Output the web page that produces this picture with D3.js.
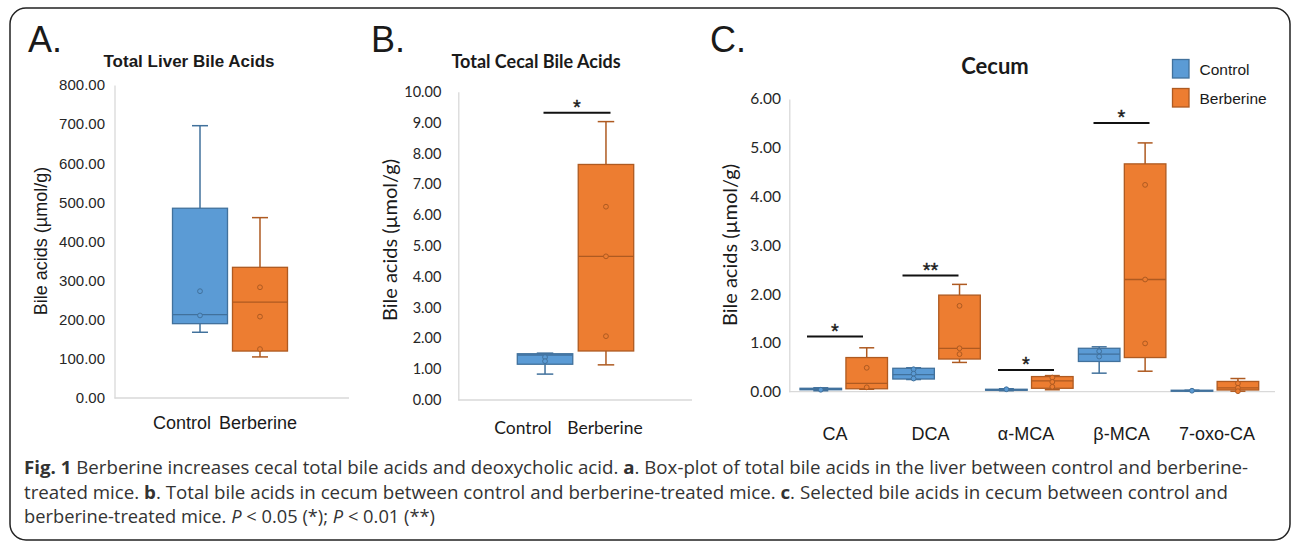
<!DOCTYPE html>
<html>
<head>
<meta charset="utf-8">
<script src="https://cdn.jsdelivr.net/npm/d3@7"></script>
<style>
  body { margin: 0; background: #fff; }
  svg { display: block; }
</style>
</head>
<body>
<svg id="fig" width="1292" height="542"></svg>
<script>
// values
// box stats are [min, q1, median, q3, max]
var groups = ["Control", "Berberine"];

var liverStats = [[168, 190, 213, 485, 696], [105, 120, 245, 334, 461]];
var liverPoints = [[273, 211], [283, 208, 125]];
var liverTicks = [0, 100, 200, 300, 400, 500, 600, 700, 800];

var cecalStats = [[0.84, 1.16, 1.46, 1.50, 1.52], [1.14, 1.59, 4.66, 7.64, 9.03]];
var cecalPoints = [[1.39, 1.26], [6.27, 4.66, 2.07]];
var cecalTicks = [0, 1, 2, 3, 4, 5, 6, 7, 8, 9, 10];
var cecalSig = ["*", 9.32];

var acids = ["CA", "DCA", "α-MCA", "β-MCA", "7-oxo-CA"];
var acidControlStats = [
  [0.02, 0.04, 0.05, 0.07, 0.08],
  [0.25, 0.26, 0.35, 0.48, 0.49],
  [0.02, 0.03, 0.04, 0.05, 0.06],
  [0.38, 0.62, 0.77, 0.89, 0.92],
  [0.01, 0.02, 0.02, 0.03, 0.03]
];
var acidBerberineStats = [
  [0.05, 0.06, 0.17, 0.70, 0.90],
  [0.60, 0.67, 0.89, 1.98, 2.20],
  [0.04, 0.07, 0.22, 0.31, 0.33],
  [0.42, 0.70, 2.30, 4.67, 5.10],
  [0.01, 0.035, 0.08, 0.21, 0.27]
];
var acidControlPoints = [[0.04], [0.46, 0.37, 0.27], [0.05], [0.83, 0.72], [0.02]];
var acidBerberinePoints = [[0.49, 0.09], [1.76, 0.89, 0.77], [0.29, 0.20, 0.10], [4.24, 2.30, 0.99], [0.17, 0.08, 0.01]];
var acidTicks = [0, 1, 2, 3, 4, 5, 6];
var acidSig = [["CA", "*", 1.13], ["DCA", "**", 2.38], ["α-MCA", "*", 0.445], ["β-MCA", "*", 5.51]];

var fill = d3.scaleOrdinal().domain(groups).range(["#5b9bd5", "#ed7d31"]);
var edge = d3.scaleOrdinal().domain(groups).range(["#41719c", "#ae5a21"]);

var ARIAL = "'Liberation Sans', Arial, sans-serif";
var CALI = "Lato, 'Open Sans', sans-serif";

var svg = d3.select("#fig");

// frame
svg.append("rect")
  .attr("x", 10).attr("y", 8).attr("width", 1280).attr("height", 532)
  .attr("rx", 16).attr("fill", "none").attr("stroke", "#222").attr("stroke-width", 1.5);

function drawBox(g, grp, x0, w, y, s, pts, capW) {
  var cx = x0 + w / 2;
  var c = edge(grp);
  // whiskers
  g.append("line").attr("x1", cx).attr("x2", cx).attr("y1", y(s[3])).attr("y2", y(s[4]))
    .attr("stroke", c).attr("stroke-width", 1.5);
  g.append("line").attr("x1", cx).attr("x2", cx).attr("y1", y(s[1])).attr("y2", y(s[0]))
    .attr("stroke", c).attr("stroke-width", 1.5);
  [s[0], s[4]].forEach(function(v) {
    g.append("line").attr("x1", cx - capW / 2).attr("x2", cx + capW / 2)
      .attr("y1", y(v)).attr("y2", y(v)).attr("stroke", c).attr("stroke-width", 1.5);
  });
  g.append("rect").attr("x", x0).attr("width", w)
    .attr("y", y(s[3])).attr("height", Math.max(1, y(s[1]) - y(s[3])))
    .attr("fill", fill(grp)).attr("stroke", c).attr("stroke-width", 1.3);
  g.append("line").attr("x1", x0).attr("x2", x0 + w).attr("y1", y(s[2])).attr("y2", y(s[2]))
    .attr("stroke", c).attr("stroke-width", 1.3);
  g.selectAll(null).data(pts).enter().append("circle")
    .attr("cx", cx).attr("cy", function(d) { return y(d); }).attr("r", 2.4)
    .attr("fill", fill(grp)).attr("stroke", c).attr("stroke-width", 1);
}

function yAxis(x0, y, ticks, pad, font, size, right) {
  var ax = svg.append("g").attr("transform", "translate(" + x0 + ",0)")
    .call(d3.axisLeft(y).tickValues(ticks).tickFormat(d3.format(".2f")).tickSize(0).tickPadding(pad));
  ax.select(".domain").attr("stroke", "#d9d9d9").attr("stroke-width", 1.3);
  ax.selectAll("text").attr("font-family", font).attr("font-size", size).attr("fill", "#262626");
  svg.append("line").attr("x1", x0).attr("x2", right).attr("y1", y(0)).attr("y2", y(0))
    .attr("stroke", "#d9d9d9").attr("stroke-width", 1.3);
}

function label(x, y, txt, font, size, weight, anchor, rot) {
  var t = svg.append("text").attr("x", x).attr("y", y).text(txt)
    .attr("font-family", font).attr("font-size", size)
    .attr("font-weight", weight || "normal").attr("text-anchor", anchor || "middle")
    .attr("fill", "#1a1a1a");
  if (rot) t.attr("transform", "rotate(-90," + x + "," + y + ")");
  return t;
}

function sigBar(cx, y, w, mark) {
  svg.append("line").attr("x1", cx - w / 2).attr("x2", cx + w / 2).attr("y1", y).attr("y2", y)
    .attr("stroke", "#111").attr("stroke-width", 2);
  label(cx, y + 1.5, mark, ARIAL, 20, "normal").attr("stroke", "#1a1a1a").attr("stroke-width", 0.4);
}

// ---------- A: liver ----------
var yA = d3.scaleLinear().domain([0, 800]).range([398, 85]);
var xA = d3.scaleBand().domain(groups).range([172.5, 287.5]).paddingInner(0.083);
yAxis(114.5, yA, liverTicks, 9.5, ARIAL, 15, 349);
var gA = svg.append("g");
groups.forEach(function(grp, i) {
  drawBox(gA, grp, xA(grp), xA.bandwidth(), yA, liverStats[i], liverPoints[i], 16);
});
label(28, 52, "A.", ARIAL, 36, "normal", "start");
label(189, 67, "Total Liver Bile Acids", ARIAL, 17, "bold");
label(47, 241, "Bile acids (µmol/g)", ARIAL, 18, "normal", "middle", true);
label(182, 429, "Control", ARIAL, 18);
label(258, 429, "Berberine", ARIAL, 18);

// ---------- B: cecal total ----------
var yB = d3.scaleLinear().domain([0, 10]).range([400, 91.7]);
var xB = d3.scaleBand().domain(groups).range([517.3, 633.7]).paddingInner(0.09);
yAxis(458.3, yB, cecalTicks, 17, CALI, 14.5, 692);
var gB = svg.append("g");
groups.forEach(function(grp, i) {
  drawBox(gB, grp, xB(grp), xB.bandwidth(), yB, cecalStats[i], cecalPoints[i], 16.5);
});
sigBar((xB(groups[0]) + xB(groups[1]) + xB.bandwidth()) / 2 + 1.5, yB(cecalSig[1]), 67, cecalSig[0]);
label(371, 52, "B.", ARIAL, 36, "normal", "start");
label(536, 68, "Total Cecal Bile Acids", CALI, 18, "bold");
label(397, 240, "Bile acids (µmol/g)", CALI, 20, "normal", "middle", true);
label(523, 434, "Control", CALI, 17.5);
label(605, 434, "Berberine", CALI, 17.5);

// ---------- C: selected acids ----------
var yC = d3.scaleLinear().domain([0, 6]).range([391.7, 99]);
var xC = d3.scaleBand().domain(acids).range([797, 1261]);
var xC1 = d3.scaleBand().domain(groups).range([3, 90.5]).paddingInner(0.095);
var xCl = d3.scalePoint().domain(acids).range([835, 1217]);
yAxis(789.3, yC, acidTicks, 8.3, CALI, 15.5, 1275);
var gC = svg.append("g");
acids.forEach(function(a, j) {
  drawBox(gC, groups[0], xC(a) + xC1(groups[0]), xC1.bandwidth(), yC, acidControlStats[j], acidControlPoints[j], 15);
  drawBox(gC, groups[1], xC(a) + xC1(groups[1]), xC1.bandwidth(), yC, acidBerberineStats[j], acidBerberinePoints[j], 15);
  label(xCl(a), 440, a, ARIAL, 18);
});
acidSig.forEach(function(d) { sigBar(xCl(d[0]), yC(d[2]), 56, d[1]); });
label(710, 52, "C.", ARIAL, 36, "normal", "start");
label(995, 74, "Cecum", CALI, 22, "bold");
label(737, 245, "Bile acids (µmol/g)", CALI, 20, "normal", "middle", true);

// legend
var leg = svg.append("g").attr("transform", "translate(1172.5,59.5)");
groups.forEach(function(grp, i) {
  leg.append("rect").attr("x", 0).attr("y", i * 29).attr("width", 16.5).attr("height", 18.5)
    .attr("fill", fill(grp)).attr("stroke", edge(grp)).attr("stroke-width", 1.3);
  leg.append("text").attr("x", 27).attr("y", i * 29 + 15).text(grp)
    .attr("font-family", ARIAL).attr("font-size", 15.5).attr("fill", "#1a1a1a");
});

// ---------- caption ----------
var CAP = "'Open Sans', 'Noto Sans', sans-serif";
var capLines = [
  [["Fig. 1", "b"], [" Berberine increases cecal total bile acids and deoxycholic acid. ", ""], ["a", "b"],
   [". Box-plot of total bile acids in the liver between control and berberine-", ""]],
  [["treated mice. ", ""], ["b", "b"], [". Total bile acids in cecum between control and berberine-treated mice. ", ""],
   ["c", "b"], [". Selected bile acids in cecum between control and", ""]],
  [["berberine-treated mice. ", ""], ["P", "i"], [" < 0.05 (*); ", ""], ["P", "i"], [" < 0.01 (**)", ""]]
];
var capWidths = [1224, 1204, 411];
var capBase = [474, 498.5, 523];
capLines.forEach(function(line, i) {
  var t = svg.append("text").attr("x", 24).attr("y", capBase[i])
    .attr("font-family", CAP).attr("font-size", 18).attr("fill", "#333")
    .attr("textLength", capWidths[i]).attr("lengthAdjust", "spacingAndGlyphs");
  line.forEach(function(seg) {
    var s = t.append("tspan").text(seg[0]);
    if (seg[1] === "b") s.attr("font-weight", "bold");
    if (seg[1] === "i") s.attr("font-style", "italic");
  });
});
</script>
</body>
</html>
